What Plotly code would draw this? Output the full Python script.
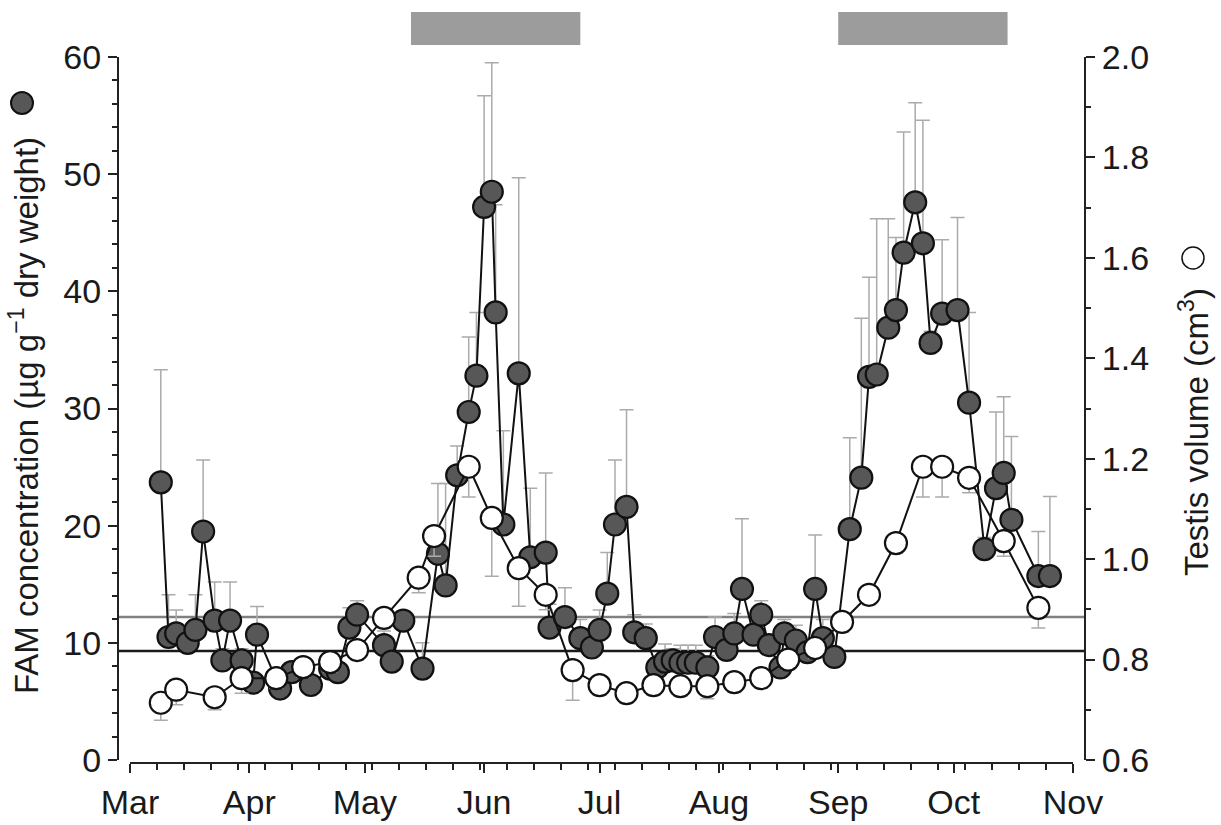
import plotly.graph_objects as go

# ---- data ----
fam_dates = ["2001-03-09", "2001-03-11", "2001-03-13", "2001-03-16", "2001-03-18", "2001-03-20",
             "2001-03-23", "2001-03-25", "2001-03-27", "2001-03-30", "2001-04-02", "2001-04-03",
             "2001-04-09", "2001-04-12", "2001-04-17", "2001-04-22", "2001-04-24", "2001-04-27",
             "2001-04-29", "2001-05-06", "2001-05-08", "2001-05-11", "2001-05-16", "2001-05-20",
             "2001-05-22", "2001-05-25", "2001-05-28", "2001-05-30", "2001-06-01", "2001-06-03",
             "2001-06-04", "2001-06-06", "2001-06-10", "2001-06-13", "2001-06-17", "2001-06-18",
             "2001-06-22", "2001-06-26", "2001-06-29", "2001-07-01", "2001-07-03", "2001-07-05",
             "2001-07-08", "2001-07-10", "2001-07-13", "2001-07-16", "2001-07-18", "2001-07-20",
             "2001-07-22", "2001-07-24", "2001-07-26", "2001-07-29", "2001-07-31", "2001-08-03",
             "2001-08-05", "2001-08-07", "2001-08-10", "2001-08-12", "2001-08-14", "2001-08-17",
             "2001-08-18", "2001-08-21", "2001-08-24", "2001-08-26", "2001-08-28", "2001-08-31",
             "2001-09-04", "2001-09-07", "2001-09-09", "2001-09-11", "2001-09-14", "2001-09-16",
             "2001-09-18", "2001-09-21", "2001-09-23", "2001-09-25", "2001-09-28", "2001-10-02",
             "2001-10-05", "2001-10-09", "2001-10-12", "2001-10-14", "2001-10-16", "2001-10-23",
             "2001-10-26"]
fam_values = [23.7, 10.5, 10.8, 10.0, 11.1, 19.5,
              11.9, 8.5, 11.9, 8.5, 6.6, 10.7,
              6.1, 7.5, 6.4, 7.8, 7.5, 11.3,
              12.4, 9.8, 8.4, 11.9, 7.8, 17.6,
              14.9, 24.3, 29.7, 32.8, 47.2, 48.5,
              38.2, 20.1, 33.0, 17.3, 17.7, 11.3,
              12.2, 10.4, 9.6, 11.1, 14.2, 20.1,
              21.6, 10.9, 10.4, 7.9, 8.4, 8.5,
              8.3, 8.3, 8.3, 7.9, 10.5, 9.4,
              10.8, 14.6, 10.7, 12.4, 9.8, 7.9,
              10.8, 10.2, 9.2, 14.6, 10.4, 8.8,
              19.7, 24.1, 32.7, 32.9, 36.9, 38.4,
              43.3, 47.6, 44.1, 35.6, 38.1, 38.4,
              30.5, 18.0, 23.2, 24.5, 20.5, 15.7,
              15.7]
fam_err = [9.6, 3.6, 2.0, 1.0, 3.0, 6.1,
           3.3, 1.0, 3.3, 1.0, 0.8, 2.4,
           0.8, 0.8, 0.8, 1.2, 0.8, 1.7,
           1.2, 1.2, 0.8, 0.8, 2.2, 6.0,
           8.7, 2.5, 6.4, 5.4, 9.5, 11.0,
           9.2, 8.0, 16.7, 5.9, 6.8, 2.0,
           2.5, 1.6, 0.8, 1.7, 3.5, 5.5,
           8.3, 1.5, 1.2, 0.8, 1.5, 1.0,
           1.5, 1.5, 1.5, 1.0, 1.7, 0.8,
           1.7, 6.0, 0.8, 1.2, 0.8, 0.8,
           1.2, 1.3, 0.8, 4.6, 1.6, 0.8,
           7.8, 13.6, 8.5, 13.3, 9.3, 6.2,
           10.3, 8.5, 10.5, 1.0, 6.3, 7.9,
           7.7, 1.0, 6.5, 6.5, 7.1, 3.8,
           6.8]

testis_dates = ["2001-03-09", "2001-03-13", "2001-03-23", "2001-03-30", "2001-04-08", "2001-04-15",
                "2001-04-22", "2001-04-29", "2001-05-06", "2001-05-15", "2001-05-19", "2001-05-28",
                "2001-06-03", "2001-06-10", "2001-06-17", "2001-06-24", "2001-07-01", "2001-07-08",
                "2001-07-15", "2001-07-22", "2001-07-29", "2001-08-05", "2001-08-12", "2001-08-19",
                "2001-08-26", "2001-09-02", "2001-09-09", "2001-09-16", "2001-09-23", "2001-09-28",
                "2001-10-05", "2001-10-14", "2001-10-23"]
testis_values = [0.714, 0.740, 0.725, 0.763, 0.763, 0.785,
                 0.795, 0.819, 0.883, 0.963, 1.046, 1.184,
                 1.082, 0.982, 0.929, 0.779, 0.749, 0.733,
                 0.749, 0.747, 0.747, 0.755, 0.763, 0.800,
                 0.823, 0.875, 0.929, 1.032, 1.184, 1.184,
                 1.162, 1.036, 0.903]
testis_err = [0.035, 0.030, 0.025, 0.030, 0.020, 0.020,
              0.020, 0.020, 0.020, 0.030, 0.040, 0.060,
              0.116, 0.076, 0.030, 0.060, 0.020, 0.020,
              0.020, 0.020, 0.025, 0.020, 0.020, 0.020,
              0.020, 0.020, 0.020, 0.020, 0.060, 0.060,
              0.030, 0.030, 0.040]

threshold_values = [12.2, 9.3]
period_starts = ["2001-05-13", "2001-09-01"]
period_ends = ["2001-06-26", "2001-10-15"]

month_range = ["2001-03-01", "2001-11-01"]

# ---- layout geometry ----
W, H = 1221, 825
ML, MR, MT, MB = 118, 136, 57, 62
PW, PH = W - ML - MR, H - MT - MB
FONT = "Liberation Sans, Arial, Helvetica, sans-serif"
TXT = "#1a1a1a"

def px_x(p):
    return (p - ML) / PW

def px_y(p):
    return (H - MB - p) / PH

fig = go.Figure()

fig.add_trace(go.Scatter(
    x=fam_dates, y=fam_values, mode="lines+markers", yaxis="y",
    line=dict(color="#111111", width=2),
    marker=dict(size=22, color="#575757", line=dict(color="#111111", width=2.2)),
    error_y=dict(type="data", symmetric=False, array=fam_err,
                 arrayminus=[0] * len(fam_err), color="#ababab", thickness=1.5, width=7),
    showlegend=False, cliponaxis=False, hoverinfo="skip",
))

fig.add_trace(go.Scatter(
    x=testis_dates, y=testis_values, mode="lines+markers", yaxis="y2",
    line=dict(color="#111111", width=2),
    marker=dict(size=22, color="#ffffff", line=dict(color="#111111", width=2.2)),
    error_y=dict(type="data", symmetric=False, array=[0] * len(testis_err),
                 arrayminus=testis_err, color="#ababab", thickness=1.5, width=7),
    showlegend=False, cliponaxis=False, hoverinfo="skip",
))

shapes = []
line_colors = ["#808080", "#1a1a1a"]
for v, c in zip(threshold_values, line_colors):
    shapes.append(dict(type="line", xref="paper", yref="y", x0=0, x1=1, y0=v, y1=v,
                       line=dict(color=c, width=2.5), layer="below"))
for s, e in zip(period_starts, period_ends):
    shapes.append(dict(type="rect", xref="x", yref="paper", x0=s, x1=e,
                       y0=px_y(45), y1=px_y(12), fillcolor="#9c9c9c",
                       line=dict(width=0), layer="above"))
# symbols next to axis titles
shapes.append(dict(type="circle", xref="paper", yref="paper", xsizemode="pixel",
                   ysizemode="pixel", xanchor=px_x(22), yanchor=px_y(103),
                   x0=-11, x1=11, y0=-11, y1=11, fillcolor="#575757",
                   line=dict(color="#111111", width=2)))
shapes.append(dict(type="circle", xref="paper", yref="paper", xsizemode="pixel",
                   ysizemode="pixel", xanchor=px_x(1193), yanchor=px_y(258),
                   x0=-11, x1=11, y0=-11, y1=11, fillcolor="#ffffff",
                   line=dict(color="#111111", width=1.5)))

annotations = [
    dict(text="FAM concentration (µg g<sup>−1</sup> dry weight)", textangle=-90,
         xref="paper", yref="paper", x=px_x(24), y=px_y(416), showarrow=False,
         xanchor="center", yanchor="middle", font=dict(size=33, color=TXT, family=FONT)),
    dict(text="Testis volume (cm<sup>3</sup>)", textangle=-90,
         xref="paper", yref="paper", x=px_x(1194), y=px_y(432), showarrow=False,
         xanchor="center", yanchor="middle", font=dict(size=33, color=TXT, family=FONT)),
]

axis_common = dict(showgrid=False, zeroline=False, showline=True, linecolor="#222222",
                   linewidth=2, ticks="outside", tickcolor="#222222", tickwidth=2,
                   ticklen=9, automargin=False,
                   tickfont=dict(size=34, color=TXT, family=FONT))

fig.update_layout(
    width=W, height=H,
    margin=dict(l=ML, r=MR, t=MT, b=MB, autoexpand=False),
    paper_bgcolor="white", plot_bgcolor="white",
    font=dict(family=FONT, color=TXT),
    shapes=shapes, annotations=annotations,
    hovermode=False,
    xaxis=dict(type="date", range=month_range, domain=[px_x(130), px_x(1073)],
               anchor="free", position=0, dtick="M1", tick0="2001-03-01",
               tickformat="%b",
               minor=dict(ticks="outside", ticklen=6, tickwidth=1.5, tickcolor="#222222",
                          dtick=7 * 86400000, tick0="2001-03-01", showgrid=False),
               **axis_common),
    yaxis=dict(range=[0, 60], domain=[px_y(760), 1], anchor="free", position=0,
               dtick=10, tick0=0,
               minor=dict(ticks="outside", ticklen=5, tickwidth=1.5, tickcolor="#222222",
                          dtick=2, showgrid=False),
               **axis_common),
    yaxis2=dict(range=[0.6, 2.0], domain=[px_y(760), 1], anchor="free", position=1,
                overlaying="y", side="right", dtick=0.2, tick0=0.6, tickformat=".1f",
                minor=dict(ticks="outside", ticklen=5, tickwidth=1.5, tickcolor="#222222",
                           dtick=0.1, showgrid=False),
                **axis_common),
)

# remove the browser's default page margin so the figure sits at the window origin
fig.write_html("out.html", config={"displayModeBar": False},
               post_script="document.body.style.margin='0';document.body.style.overflow='hidden';")
